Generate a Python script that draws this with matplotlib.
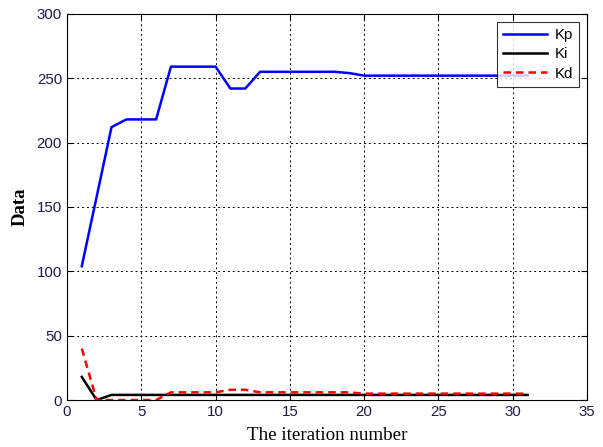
import numpy as np
import matplotlib.pyplot as plt

iterations = list(range(1, 32))
kp = [104, 158, 212, 218, 218, 218, 259, 259, 259, 259, 242, 242, 255, 255, 255,
      255, 255, 255, 254, 252, 252, 252, 252, 252, 252, 252, 252, 252, 252, 252, 252]
ki = [18, 0, 4, 4, 4, 4, 4, 4, 4, 4, 4, 4, 4, 4, 4,
      4, 4, 4, 4, 4, 4, 4, 4, 4, 4, 4, 4, 4, 4, 4, 4]
kd = [40, 0, 0, 0, 0, 0, 6, 6, 6, 6, 8, 8, 6, 6, 6,
      6, 6, 6, 6, 5, 5, 5, 5, 5, 5, 5, 5, 5, 5, 5, 5]

fig = plt.figure(figsize=(6.03, 4.47), dpi=100)
ax = fig.add_axes([0.111, 0.105, 0.8625, 0.864])

ax.plot(iterations, kp, color='#0000ff', lw=1.8, label='Kp')
ax.plot(iterations, ki, color='black', lw=1.8, label='Ki')
ax.plot(iterations, kd, color='#ff0000', lw=1.8, ls='--', dashes=(3, 2), label='Kd')

ax.set_xlim(0, 35)
ax.set_ylim(0, 300)
ax.set_xticks(np.arange(0, 36, 5))
ax.set_yticks(np.arange(0, 301, 50))
ax.grid(True, color='black', ls=(0, (2, 3)), lw=0.7)
ax.tick_params(direction='in', top=True, right=True, labelsize=10.8,
               labelcolor='#1c1c48', length=4)
for lab in ax.get_xticklabels() + ax.get_yticklabels():
    lab.set_family('Liberation Sans')
for s in ax.spines.values():
    s.set_linewidth(0.8)

ax.set_xlabel('The iteration number', family='Liberation Serif', fontsize=13.7, labelpad=6)
ax.set_ylabel('Data', family='Liberation Serif', fontsize=13.5, fontweight='bold', labelpad=6)

leg = ax.legend(loc='upper right', fancybox=False, edgecolor='black',
                prop={'family': 'Liberation Sans', 'size': 10.8},
                handlelength=2.9, borderaxespad=0.55, labelspacing=0.35,
                handletextpad=0.5, borderpad=0.4)
leg.get_frame().set_linewidth(0.8)

fig.savefig('out.png', dpi=100)
